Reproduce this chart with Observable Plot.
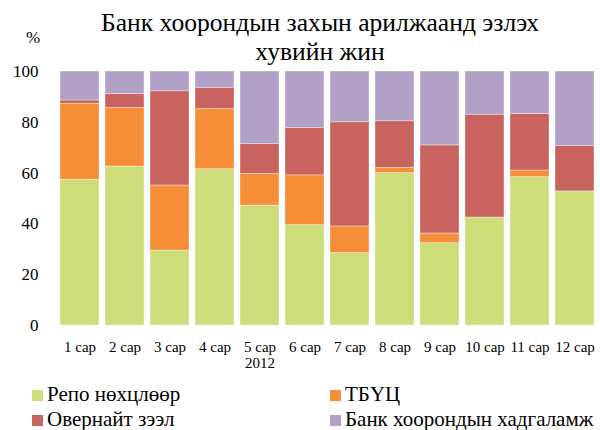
<!DOCTYPE html>
<html>
<head>
<meta charset="utf-8">
<script src="https://cdn.jsdelivr.net/npm/d3@7"></script>
<script src="https://cdn.jsdelivr.net/npm/@observablehq/plot@0.6"></script>
<style>
  html, body { margin: 0; padding: 0; background: #fff; }
  #wrap { position: relative; width: 600px; height: 430px; overflow: hidden; font-family: 'Liberation Serif', 'DejaVu Serif', serif; color: #000; }
  #title { position: absolute; left: 0; top: 8px; width: 640px; text-align: center; font-size: 25.6px; line-height: 29px; font-family: 'Liberation Serif', 'DejaVu Serif', serif; }
  #unit { position: absolute; left: 26px; top: 28px; font-size: 17px; line-height: 20px; font-family: 'Liberation Serif', serif; }
  #chart { position: absolute; left: 0; top: 0; }
  #chart svg text { font-family: 'Liberation Serif', 'DejaVu Serif', serif; }
  .leg { position: absolute; font-size: 21px; line-height: 22px; white-space: nowrap; font-family: 'Liberation Serif', 'DejaVu Serif', serif; }
  .leg .sw { display: inline-block; width: 11px; height: 11px; margin-right: 4px; vertical-align: 0px; }
</style>
</head>
<body>
<div id="wrap">
  <div id="chart"></div>
  <div id="title"></div>
  <div id="unit"></div>
  <div id="legend"></div>
</div>
<script>
const titleLines = ["Банк хоорондын захын арилжаанд эзлэх", "хувийн жин"];
const unitLabel = "%";
const months = ["1 сар","2 сар","3 сар","4 сар","5 сар","6 сар","7 сар","8 сар","9 сар","10 сар","11 сар","12 сар"];
const monthLabels = ["1 сар","2 сар","3 сар","4 сар","5 сар\n2012","6 сар","7 сар","8 сар","9 сар","10 сар","11 сар","12 сар"];
const seriesNames = ["Репо нөхцлөөр", "ТБҮЦ", "Овернайт зээл", "Банк хоорондын хадгаламж"];
const seriesColors = ["#CDDD7A", "#F68D37", "#C8635F", "#B1A1C7"];
const repo      = [57.4, 62.6, 29.5, 61.5, 47.2, 39.5, 28.5, 60.0, 32.4, 42.5, 58.4, 52.8];
const tbuc      = [29.9, 23.1, 25.6, 23.7, 12.5, 19.6, 10.5,  2.1,  3.8,  0.0,  2.6,  0.0];
const overnight = [ 1.3,  5.4, 37.1,  8.4, 11.7, 18.6, 41.0, 18.3, 34.7, 40.5, 22.3, 17.8];
const deposit   = [11.4,  8.9,  7.8,  6.4, 28.6, 22.3, 20.0, 19.6, 29.1, 17.0, 16.7, 29.4];
const yTicks = [0, 20, 40, 60, 80, 100];

const seriesValues = [repo, tbuc, overnight, deposit];
const data = [];
months.forEach((m, i) => {
  seriesNames.forEach((s, j) => data.push({month: m, series: s, value: seriesValues[j][i]}));
});

document.getElementById("title").innerHTML = titleLines.join("<br>");
document.getElementById("unit").textContent = unitLabel;

const chart = Plot.plot({
  width: 600,
  height: 430,
  marginTop: 71,
  marginBottom: 105,
  marginLeft: 55,
  marginRight: 0,
  style: {fontFamily: "'Liberation Serif', 'DejaVu Serif', serif", fontSize: "17px", background: "transparent", color: "#000"},
  x: {domain: months, paddingInner: 0.13, paddingOuter: 0.03, label: null},
  y: {domain: [0, 100], label: null},
  color: {domain: seriesNames, range: seriesColors},
  marks: [
    Plot.barY(data, {x: "month", y: "value", fill: "series", stroke: "#fff", strokeWidth: 0.6, strokeOpacity: 0.6}),
    Plot.axisY({ticks: yTicks, tickSize: 0, tickPadding: 17, label: null, fontSize: 17}),
    Plot.axisX({tickSize: 0, tickPadding: 14, label: null, fontSize: 15, lineHeight: 1.13,
      tickFormat: (d) => monthLabels[months.indexOf(d)]})
  ]
});
document.getElementById("chart").appendChild(chart);

const legend = document.getElementById("legend");
const legPos = [[32, 383], [330, 383], [32, 408], [330, 408]];
seriesNames.forEach((s, j) => {
  const el = document.createElement("div");
  el.className = "leg";
  el.style.left = legPos[j][0] + "px";
  el.style.top = legPos[j][1] + "px";
  const sw = document.createElement("span");
  sw.className = "sw";
  sw.style.background = seriesColors[j];
  el.appendChild(sw);
  el.appendChild(document.createTextNode(s));
  legend.appendChild(el);
});
</script>
</body>
</html>
